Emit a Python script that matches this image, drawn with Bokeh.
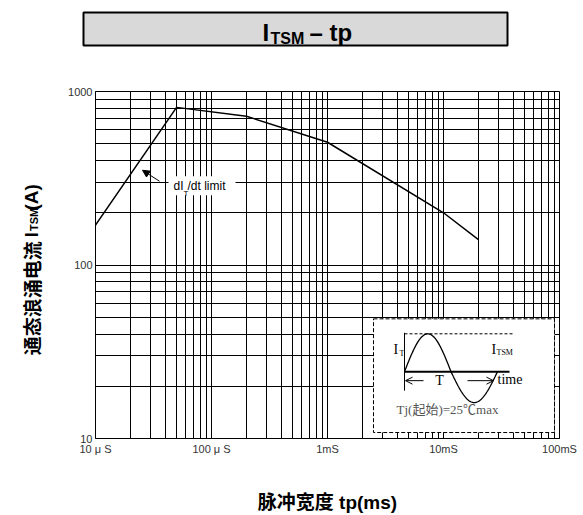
import numpy as np
from bokeh.plotting import figure
from bokeh.layouts import column, row
from bokeh.models import Range1d, FixedTicker, Label, Arrow, NormalHead, OpenHead
from bokeh.embed import file_html
from bokeh.resources import INLINE

# ---------------- data ----------------
tp_ms = [0.01, 0.05, 0.2, 1.0, 10.0, 20.0]
itsm_a = [170, 810, 720, 510, 200, 140]

x_major = [0.01, 0.1, 1, 10, 100]
x_tick_labels = ["10 μ S", "100 μ S", "1mS", "10mS", "100mS"]
y_major = [10, 100, 1000]
y_tick_labels = ["10", "100", "1000"]

title_main, title_sub, title_rest = "I", "TSM", "– tp"
ylab_cn, ylab_i, ylab_sub, ylab_rest = "通态浪涌电流", "I", "TSM", "(A)"
xlab = "脉冲宽度 tp(ms)"

# ---------------- geometry ----------------
PAGE_W, PAGE_H = 583, 515
TOP_H = 60          # title strip
LEFT_W = 45         # y-title strip
MW, MH = PAGE_W - LEFT_W, PAGE_H - TOP_H
FL, FR, FT = 50, 24, 31
FW, FH = MW - FL - FR, 348
FB = MH - FT - FH
X0, X1 = 0.01, 100
Y0, Y1 = 10, 1000

SANS = "'Liberation Sans', 'Noto Sans CJK SC', sans-serif"
SERIF = "'Liberation Serif', 'Noto Sans CJK SC', serif"
CJK = "'Noto Sans CJK SC', sans-serif"
CJK_SHIFT = 50   # rotated CJK text renders this far from its anchor


def fx(px):
    return 10 ** (np.log10(X0) + np.asarray(px, dtype=float) / FW * np.log10(X1 / X0))


def fy(py):
    return 10 ** (np.log10(Y0) + np.asarray(py, dtype=float) / FH * np.log10(Y1 / Y0))


def blank(w, h, xr, yr):
    f = figure(width=w, height=h, x_range=xr, y_range=yr,
               output_backend="svg", toolbar_location=None,
               x_axis_location=None, y_axis_location=None,
               min_border_left=0, min_border_right=0,
               min_border_top=0, min_border_bottom=0)
    f.outline_line_color = None
    f.background_fill_color = "white"
    f.border_fill_color = "white"
    f.grid.visible = False
    return f


def lab(fig, text, x, y, size, bold=False, align="left", baseline="middle",
        font=SANS, color="black", angle=0.0, units="data"):
    fig.add_layout(Label(x=x, y=y, x_units=units, y_units=units, text=text,
                         text_font=font, text_font_size=f"{size}px",
                         text_font_style="bold" if bold else "normal",
                         text_align=align, text_baseline=baseline,
                         text_color=color, angle=angle))


# ---------------- title strip (page pixel coords, y down) ----------------
T = blank(PAGE_W, TOP_H, Range1d(0, PAGE_W), Range1d(TOP_H, 0))
T.quad(left=[83], right=[507], top=[12], bottom=[45],
       fill_color="#d9d9d9", line_color="black", line_width=2)
lab(T, title_main, 262, 31.5, 24, bold=True)
lab(T, title_sub, 270, 37.5, 16, bold=True)
lab(T, title_rest, 309, 31.5, 24, bold=True)

# ---------------- y-title strip ----------------
L = blank(LEFT_W, MH, Range1d(0, LEFT_W), Range1d(PAGE_H, TOP_H))
ANG = np.pi / 2
lab(L, ylab_cn, 31, 356 + CJK_SHIFT, 19, bold=True, angle=ANG, font=CJK)
lab(L, ylab_i, 31, 251, 18, bold=True, angle=ANG)
lab(L, ylab_sub, 33, 243, 11, bold=True, angle=ANG)
lab(L, ylab_rest, 31, 216, 19, bold=True, angle=ANG)

# ---------------- main chart ----------------
p = figure(width=MW, height=MH, x_axis_type="log", y_axis_type="log",
           x_range=Range1d(X0, X1), y_range=Range1d(Y0, Y1),
           output_backend="svg", toolbar_location=None,
           min_border_left=FL, min_border_right=FR,
           min_border_top=FT, min_border_bottom=FB)
p.background_fill_color = "white"
p.border_fill_color = "white"
p.outline_line_color = "black"
p.outline_line_width = 1

gx = [m * 10.0 ** e for e in range(-2, 2) for m in range(1, 10)] + [100.0]
gy = [m * 10.0 ** e for e in range(1, 3) for m in range(1, 10)] + [1000.0]
p.xgrid.ticker = FixedTicker(ticks=gx)
p.ygrid.ticker = FixedTicker(ticks=gy)
for g in (p.xgrid, p.ygrid):
    g.grid_line_color = "black"
    g.grid_line_width = 1
    g.grid_line_alpha = 1

p.xaxis.ticker = FixedTicker(ticks=x_major, minor_ticks=[])
p.yaxis.ticker = FixedTicker(ticks=y_major, minor_ticks=[])
p.xaxis.major_label_overrides = {v: t for v, t in zip(x_major, x_tick_labels)}
p.yaxis.major_label_overrides = {v: t for v, t in zip(y_major, y_tick_labels)}
for ax in (p.xaxis, p.yaxis):
    ax.major_tick_in = 0
    ax.major_tick_out = 0
    ax.minor_tick_in = 0
    ax.minor_tick_out = 0
    ax.axis_line_color = "black"
    ax.major_label_text_font = "Liberation Sans"
    ax.major_label_text_font_size = "11px"
    ax.major_label_text_color = "#333333"
p.xaxis.major_label_standoff = 4
p.yaxis.major_label_standoff = 3

p.xaxis.axis_label = xlab
p.xaxis.axis_label_text_font = SANS
p.xaxis.axis_label_text_font_size = "19px"
p.xaxis.axis_label_text_font_style = "bold"
p.xaxis.axis_label_text_color = "black"
p.xaxis.axis_label_standoff = 34

# curve
p.line(tp_ms, itsm_a, line_color="black", line_width=1.5)

# dI/dt annotation
p.quad(left=fx(73), right=fx(140), bottom=fy(244), top=fy(263),
       fill_color="white", line_color=None)
lab(p, "dI", 78, 253, 12, units="screen")
lab(p, "T", 88, 245.5, 8, units="screen")
lab(p, "/dt limit", 92, 253, 12, units="screen")
p.add_layout(Arrow(end=NormalHead(size=7, fill_color="black", line_color="black"),
                   x_start=float(fx(64)), y_start=float(fy(258)),
                   x_end=float(fx(47)), y_end=float(fy(269)),
                   line_color="black", line_width=1))

# inset schematic
p.quad(left=fx(278), right=fx(459), bottom=fy(6), top=fy(120),
       fill_color="white", line_color="black", line_dash="4 2", line_width=1)
t = np.linspace(0, 1, 161)
s = np.sin(2 * np.pi * t)
amp = np.where(s >= 0, 38, 31)
p.line(fx(309 + 93 * t), fy(67 + amp * s), line_color="black", line_width=1.3)
p.line(fx([309, 417]), fy([105, 105]), line_color="black", line_dash="3 2", line_width=1)
p.line(fx([309, 309]), fy([48, 106]), line_color="black", line_width=1)
p.line(fx([309, 414]), fy([67, 67]), line_color="black", line_width=2)
p.add_layout(Arrow(end=OpenHead(size=7, line_color="black", line_width=1),
                   x_start=float(fx(328)), y_start=float(fy(58)),
                   x_end=float(fx(310)), y_end=float(fy(58)),
                   line_color="black", line_width=1))
p.add_layout(Arrow(end=OpenHead(size=7, line_color="black", line_width=1),
                   x_start=float(fx(372)), y_start=float(fy(58)),
                   x_end=float(fx(398)), y_end=float(fy(58)),
                   line_color="black", line_width=1))
lab(p, "I", 298, 89, 14, font=SERIF, units="screen")
lab(p, "T", 304, 85, 8, font=SERIF, units="screen")
lab(p, "I", 396, 89, 14, font=SERIF, units="screen")
lab(p, "TSM", 401, 86.5, 8, font=SERIF, units="screen")
lab(p, "T", 344, 58, 14, font=SERIF, align="center", units="screen")
lab(p, "time", 402, 59, 14, font=SERIF, units="screen")
lab(p, "Tj(起始)=25℃max", 301, 29, 13, font=SERIF, color="#555555", units="screen")

layout = column(T, row(L, p, spacing=0), spacing=0)

with open("out.html", "w", encoding="utf-8") as f:
    f.write(file_html(layout, INLINE))
